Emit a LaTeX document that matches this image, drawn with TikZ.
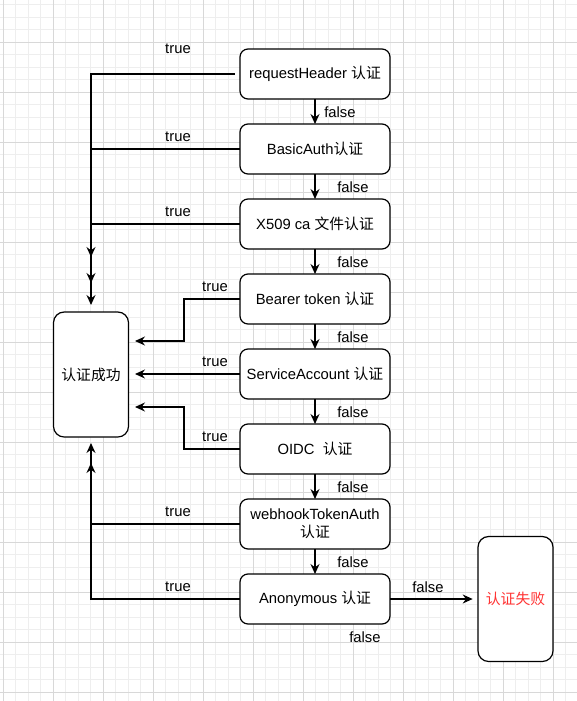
\documentclass[tikz,border=0pt]{standalone}
\usepackage{fontspec}
\setmainfont{Liberation Sans}
\newfontfamily\cjk{Noto Sans CJK SC}
\newcommand{\zh}[1]{{\cjk #1}}
\usetikzlibrary{positioning, arrows.meta}
\definecolor{gridminor}{HTML}{EEEEEE}
\definecolor{gridmajor}{HTML}{D8D8D8}
\definecolor{failred}{HTML}{FF3333}

\begin{document}
\begin{tikzpicture}[
    x=0.75pt, y=-0.75pt,
    node distance=18.75pt,
    font=\fontsize{11.1}{13.2}\selectfont,
    authbox/.style={rectangle, rounded corners=6pt, draw, line width=0.9pt, outer sep=0pt, fill=white, minimum width=112.5pt, minimum height=37.5pt, align=center},
    result/.style={rectangle, rounded corners=8pt, draw, line width=0.9pt, outer sep=0pt, fill=white, minimum width=56.25pt, minimum height=93.75pt, align=center},
    arrow/.style={-{Stealth[length=7.5pt, width=6.75pt, inset=2.5pt]}, line width=0.9pt},
    tag/.style={inner sep=0pt}
]

% Grid
\useasboundingbox (0,0) rectangle (577,701);
\foreach \i in {0,...,46} \draw[gridminor, line width=0.75pt] (3+12.5*\i,0) -- (3+12.5*\i,701);
\foreach \i in {1,...,56} \draw[gridminor, line width=0.75pt] (0,-8+12.5*\i) -- (577,-8+12.5*\i);
\foreach \i in {0,...,11} \draw[gridmajor, line width=0.75pt] (3+50*\i,0) -- (3+50*\i,701);
\foreach \i in {0,...,13} \draw[gridmajor, line width=0.75pt] (0,42+50*\i) -- (577,42+50*\i);

% Authenticators
\node[authbox] (reqheader) at (315,74) {requestHeader \zh{认证}};
\node[authbox, below=of reqheader] (basic) {BasicAuth\zh{认证}};
\node[authbox, below=of basic] (x509) {X509 ca \zh{文件认证}};
\node[authbox, below=of x509] (bearer) {Bearer token \zh{认证}};
\node[authbox, below=of bearer] (svcacct) {ServiceAccount \zh{认证}};
\node[authbox, below=of svcacct] (oidc) {OIDC\ \ \zh{认证}};
\node[authbox, below=of oidc] (webhook) {webhookTokenAuth\\\zh{认证}};
\node[authbox, below=of webhook] (anon) {Anonymous \zh{认证}};

% Results
\node[result] (success) at (91,374.5) {\zh{认证成功}};
\node[result, right=66pt of anon] (fail) {\color{failred}\zh{认证失败}};

% Arrow ends
\coordinate (inA) at (91,257);
\coordinate (inB) at (91,283);
\coordinate (inC) at (91,305);
\coordinate (inD) at (135,341);
\coordinate (inE) at (135,374);
\coordinate (inF) at (135,407);
\coordinate (inG) at (91,443);
\coordinate (inH) at (91,463);

% false chain
\draw[arrow] (reqheader) -- (basic);
\draw[arrow] (basic) -- (x509);
\draw[arrow] (x509) -- (bearer);
\draw[arrow] (bearer) -- (svcacct);
\draw[arrow] (svcacct) -- (oidc);
\draw[arrow] (oidc) -- (webhook);
\draw[arrow] (webhook) -- (anon);
\draw[arrow, shorten >=4pt] (anon) -- (fail);

% true links
\draw[arrow] ([xshift=-4pt]reqheader.west) -| (inA);
\draw[arrow] (basic.west) -| (inB);
\draw[arrow] (x509.west) -| (inC);
\draw[arrow] (bearer.west) -| (184,341) -- (inD);
\draw[arrow] (svcacct.west) -- (inE |- svcacct.west);
\draw[arrow] (oidc.west) -| (184,407) -- (inF);
\draw[arrow] (webhook.west) -| (inG);
\draw[arrow] (anon.west) -| (inH);

% Labels
\node[tag] (t1) at (178,49) {true};
\node[tag] (t2) at (178,137) {true};
\node[tag] (t3) at (178,212) {true};
\node[tag] (t4) at (215,287) {true};
\node[tag] (t5) at (215,362) {true};
\node[tag] (t6) at (215,437) {true};
\node[tag] (t7) at (178,512) {true};
\node[tag] (t8) at (178,587) {true};
\node[tag] (f1) at (340,112) {false};
\node[tag] (f2) at (353,187) {false};
\node[tag] (f3) at (353,262) {false};
\node[tag] (f4) at (353,337) {false};
\node[tag] (f5) at (353,412) {false};
\node[tag] (f6) at (353,487) {false};
\node[tag] (f7) at (353,562) {false};
\node[tag] (f8) at (428,587) {false};
\node[tag] (f9) at (365,637) {false};

\end{tikzpicture}
\end{document}
